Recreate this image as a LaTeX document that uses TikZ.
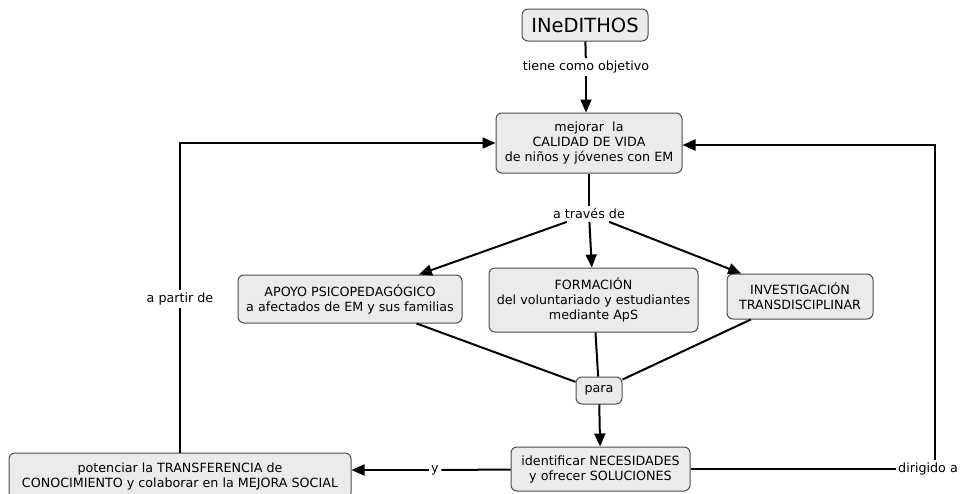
\documentclass[tikz,border=0pt]{standalone}
\usepackage{fontspec}
\setmainfont{DejaVu Sans}
\usetikzlibrary{arrows.meta}

\begin{document}
\begin{tikzpicture}[x=1pt,y=-1pt]
    \tikzstyle{Link} = [
            draw=black,
            line width=2pt,
            >={Triangle[length=13pt,width=11pt]}
    ];
    \tikzstyle{LinkLabel} = [
            inner sep=2.5pt,
            font={\fontsize{12.7}{15}\selectfont}
    ];
    \tikzstyle{Concept} = [
            draw=black!70,
            fill=black!8,
            line width=1pt,
            rounded corners=6pt,
            rectangle,
            align=center,
            inner sep=0pt,
            font={\fontsize{12.7}{15}\selectfont}
    ];

    \useasboundingbox (0,0) rectangle (963,493);

    \node[Concept, name=inedithos, minimum width=126, minimum height=32,
          font={\fontsize{19.5}{22}\selectfont}]                   at (585,25)    {INeDITHOS};
    \node[Concept, name=calidad, minimum width=186, minimum height=60]       at (589,143)   {mejorar\ \ la\\CALIDAD DE VIDA\\de niños y jóvenes con EM};
    \node[Concept, name=apoyo, minimum width=224, minimum height=48]         at (350,299)   {APOYO PSICOPEDAGÓGICO\\a afectados de EM y sus familias};
    \node[Concept, name=formacion, minimum width=209, minimum height=64]     at (593.5,300) {FORMACIÓN\\del voluntariado y estudiantes\\mediante ApS};
    \node[Concept, name=investigacion, minimum width=146, minimum height=45] at (800,296.5) {INVESTIGACIÓN\\TRANSDISCIPLINAR};
    \node[Concept, name=para, minimum width=46, minimum height=27]           at (599,390.5) {para};
    \node[Concept, name=identificar, minimum width=179, minimum height=44]   at (600.5,469) {identificar NECESIDADES\\y ofrecer SOLUCIONES};
    \node[Concept, name=potenciar, minimum width=342, minimum height=46]     at (180,476)   {potenciar la TRANSFERENCIA de\\CONOCIMIENTO y colaborar en la MEJORA SOCIAL};

    \node[LinkLabel, name=tiene]    at (586,67)  {tiene como objetivo};
    \node[LinkLabel, name=traves]   at (589,214) {a través de};
    \node[LinkLabel, name=apartir]  at (180,299) {a partir de};
    \node[LinkLabel, name=ylab]     at (435,470) {y};
    \node[LinkLabel, name=dirigido] at (928,469) {dirigido a};

    % corner of the return line on the right
    \coordinate (rc) at (935,145);

    \draw[Link]    (inedithos) -- (tiene);
    \draw[Link,->] (tiene) -- (tiene |- calidad.north);
    \draw[Link]    (calidad) -- (traves);
    \draw[Link,->] (traves) -- (apoyo);
    \draw[Link,->] (traves) -- (formacion);
    \draw[Link,->] (traves) -- (investigacion);
    \draw[Link]    (apoyo) -- (para);
    \draw[Link]    (formacion) -- (para);
    \draw[Link]    (investigacion) -- (para);
    \draw[Link,->] (para) -- (identificar);
    \draw[Link]    (identificar) -- (ylab);
    \draw[Link,->] (ylab) -- (potenciar.east |- ylab);
    \draw[Link]    (identificar) -- (dirigido);
    \draw[Link,->] (dirigido.north -| rc) -- (rc) -- (calidad.east |- rc);
    \draw[Link]    (potenciar) -- (apartir);
    \draw[Link,->] (apartir) |- (calidad);
\end{tikzpicture}
\end{document}
